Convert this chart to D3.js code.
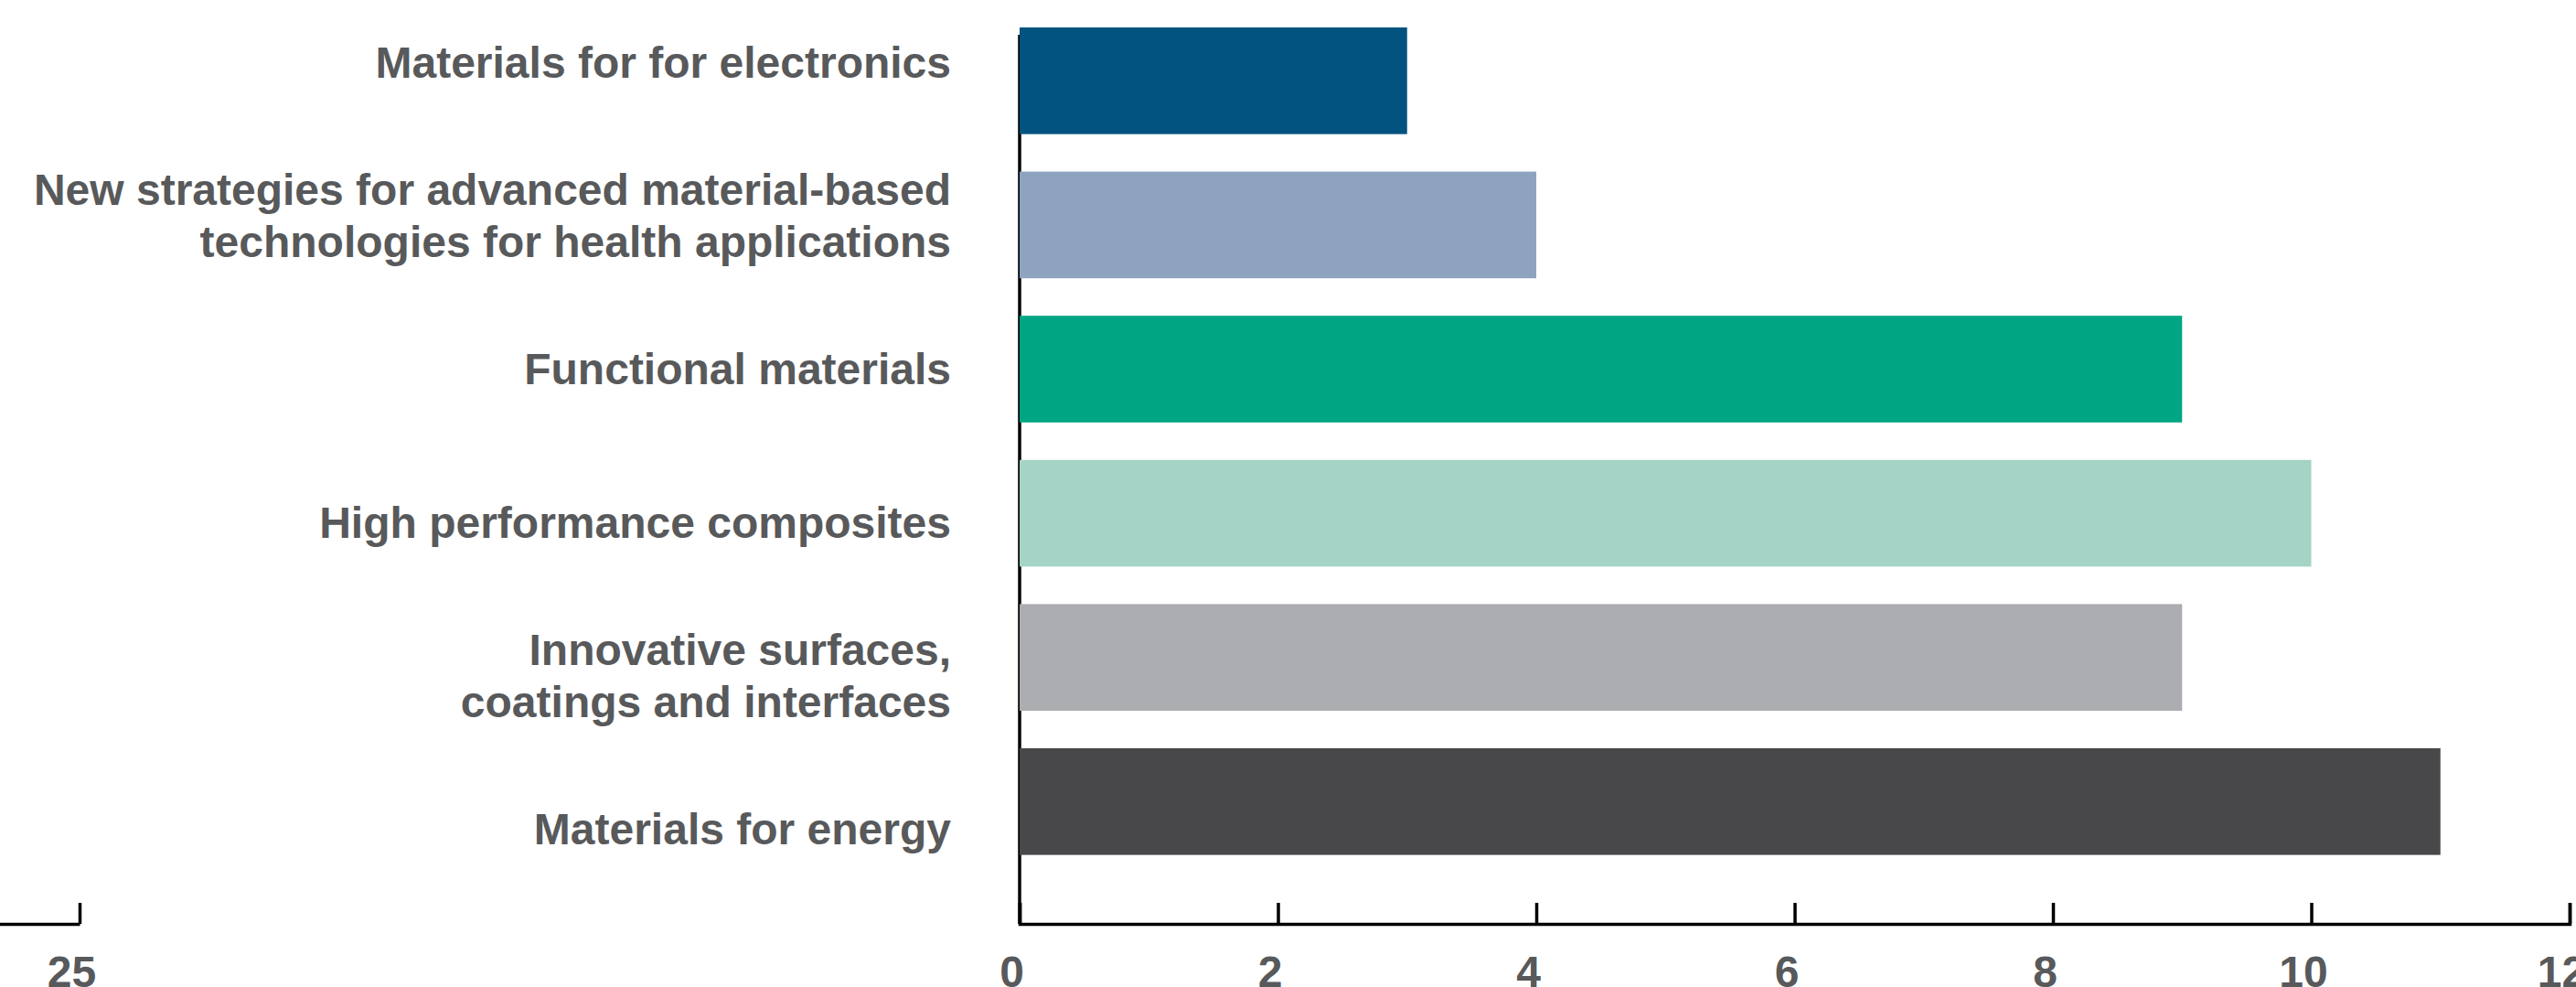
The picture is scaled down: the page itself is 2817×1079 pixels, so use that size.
<!DOCTYPE html>
<html>
<head>
<meta charset="utf-8">
<script src="https://cdn.jsdelivr.net/npm/d3@7"></script>
<style>
  html, body { margin: 0; padding: 0; background: #ffffff; }
  svg { display: block; }
</style>
</head>
<body>
<svg id="chart" width="2817" height="1079"></svg>
<script>
// ---- data ----
const categories = [
  "Materials for for electronics",
  "New strategies for advanced material-based technologies for health applications",
  "Functional materials",
  "High performance composites",
  "Innovative surfaces, coatings and interfaces",
  "Materials for energy"
];
const labelLines = [
  ["Materials for for electronics"],
  ["New strategies for advanced material-based", "technologies for health applications"],
  ["Functional materials"],
  ["High performance composites"],
  ["Innovative surfaces,", "coatings and interfaces"],
  ["Materials for energy"]
];
const values = [3, 4, 9, 10, 9, 11];
const barColors = ["#02537f", "#8ea3bd", "#00a583", "#a5d3c6", "#acadb1", "#48484a"];
const xTicks = [0, 2, 4, 6, 8, 10, 12];
const leftAxisTicks = [25];

// ---- layout ----
const W = 2817, H = 1079;
const axisY = 1010;
const textColor = "#58595b";
const fontFamily = "'Liberation Sans', Arial, Helvetica, sans-serif";
const fontSize = 48;
const lineGap = 57;

const svg = d3.select("#chart");

const x = d3.scaleLinear().domain([0, 12]).range([1115, 2810]);
const y = d3.scaleBand().domain(categories).range([9.5, 955.1])
  .paddingInner(0.26).paddingOuter(0.13);
const yLabel = d3.scalePoint().domain(categories).range([68, 906]);

// y axis line
svg.append("line")
  .attr("x1", x(0)).attr("x2", x(0))
  .attr("y1", 38).attr("y2", axisY)
  .attr("stroke", "#000").attr("stroke-width", 3.5);

// bars
svg.append("g").selectAll("rect")
  .data(categories)
  .join("rect")
  .attr("x", x(0))
  .attr("y", d => y(d))
  .attr("width", (d, i) => x(values[i]) - x(0))
  .attr("height", y.bandwidth())
  .attr("fill", (d, i) => barColors[i]);

// category labels
const lab = svg.append("g")
  .attr("font-family", fontFamily)
  .attr("font-weight", "bold")
  .attr("font-size", fontSize)
  .attr("fill", textColor)
  .attr("text-anchor", "end");

categories.forEach((c, i) => {
  const lines = labelLines[i];
  const cy = yLabel(c);
  const n = lines.length;
  const t = lab.append("text").attr("x", 1040);
  lines.forEach((ln, j) => {
    const base = cy + (j - (n - 1) / 2) * lineGap + fontSize * 0.358;
    t.append("tspan").attr("x", 1040).attr("y", base).text(ln);
  });
});

// x axis
function styleAxis(g) {
  g.select(".domain").attr("stroke", "#000").attr("stroke-width", 3.5);
  g.selectAll(".tick line").attr("stroke", "#000").attr("stroke-width", 3.5);
  g.selectAll(".tick text")
    .attr("fill", textColor)
    .attr("font-family", fontFamily)
    .attr("font-weight", "bold")
    .attr("font-size", fontSize)
    .attr("dx", -9);
}

svg.append("g")
  .attr("transform", `translate(0,${axisY})`)
  .call(d3.axisBottom(x).tickValues(xTicks).tickFormat(d3.format("d"))
    .tickSizeInner(-23).tickSizeOuter(-23).tickPadding(35))
  .call(styleAxis);

// partial axis from neighbouring panel (left edge)
const xLeft = d3.scaleLinear().domain([0, 25]).range([-1600, 87]);
svg.append("g")
  .attr("transform", `translate(0,${axisY})`)
  .call(d3.axisBottom(xLeft).tickValues(leftAxisTicks).tickFormat(d3.format("d"))
    .tickSizeInner(-23).tickSizeOuter(0).tickPadding(35))
  .call(styleAxis);
</script>
</body>
</html>
